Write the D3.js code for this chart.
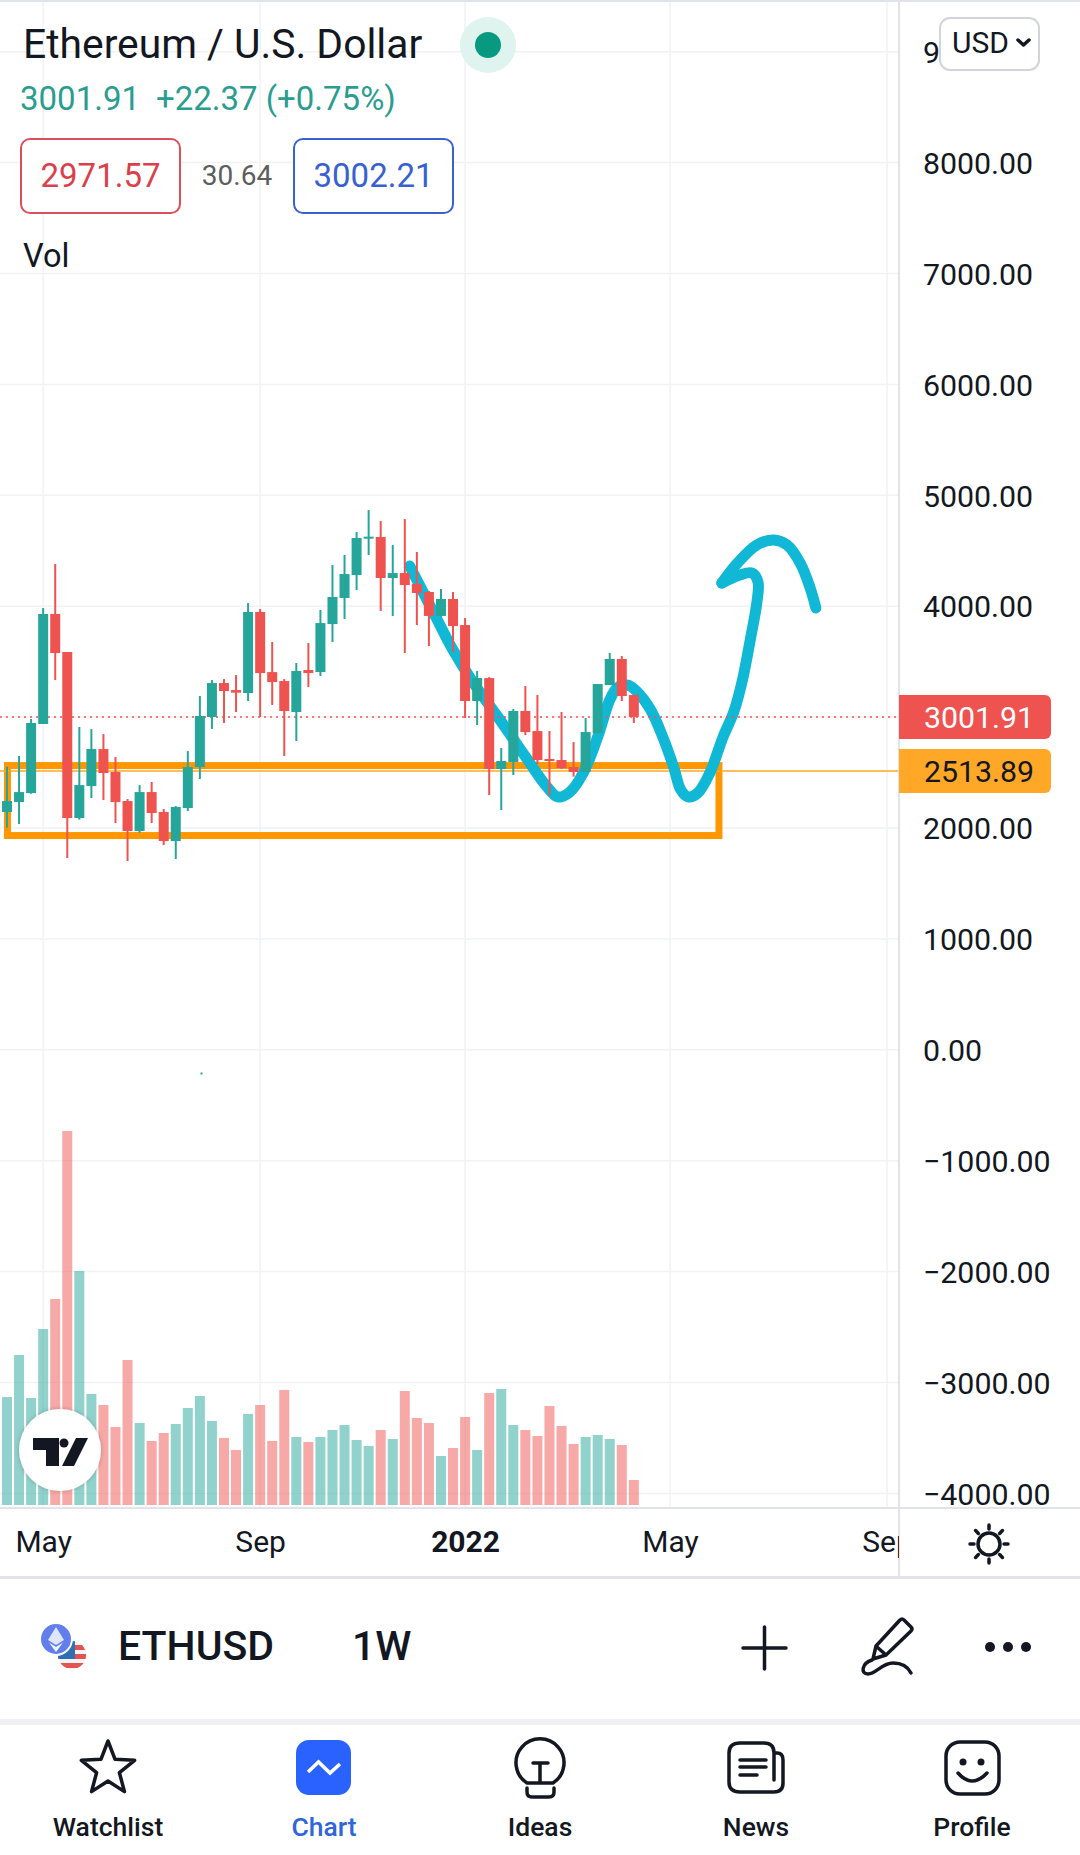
<!DOCTYPE html>
<html>
<head>
<meta charset="utf-8">
<title>ETHUSD</title>
<script src="https://cdn.jsdelivr.net/npm/d3@7"></script>
<style>
  html, body { margin: 0; padding: 0; background: #fff; }
  svg { display: block; }
  text { font-family: Roboto, sans-serif; fill: #131722; }
  .axis path, .axis line { display: none; }
  .icon { fill: none; stroke: #131722; stroke-width: 3.5; stroke-linecap: round; stroke-linejoin: round; }
</style>
</head>
<body>
<svg id="chart" width="1080" height="1855"></svg>
<script>
const OPEN = [2144,2234,2315,2938,3930,3587,2090,2378,2712,2505,2243,1973,2324,2144,1882,2180,2550,3001,3307,3244,3217,3948,3406,3325,3046,3425,3406,3839,4074,4281,4609,4624,4254,4299,4200,4128,3912,4065,3830,3145,3352,2532,2595,3055,2874,2622,2613,2550,2505,2856,3289,3524,3199];
const HIGH = [2553,2649,2983,3984,4380,3587,2911,2892,2847,2640,2261,2387,2415,2171,2198,2694,3190,3334,3343,3379,4029,3975,3677,3343,3488,3668,3966,4371,4462,4669,4867,4768,4552,4786,4489,4137,4155,4128,3893,3416,3361,2721,3073,3280,3199,2874,3046,2775,2992,3298,3578,3551,3199];
const LOW = [2003,2036,2309,2938,3334,1729,2075,2270,2252,2045,1702,1958,2045,1846,1720,2153,2442,2893,2947,3046,3145,3001,3109,2649,2784,3271,3370,3677,3884,4146,4462,3957,3912,3578,3830,3641,3906,3587,2992,2929,2297,2162,2478,2838,2577,2297,2532,2463,2505,2853,3289,3145,2947];
const CLOSE = [2243,2324,2947,3930,3578,2090,2387,2712,2496,2234,1973,2324,2135,1882,2189,2550,3010,3307,3235,3220,3948,3397,3316,3055,3416,3397,3848,4083,4290,4615,4627,4254,4299,4191,4119,3912,4065,3821,3145,3352,2532,2604,3055,2865,2613,2604,2541,2505,2865,3298,3524,3190,3001.91];
const VOLUME = [108,150,107,176,206,374,234,111,100,78,145,82,64,72,81,97,109,84,67,55,91,100,64,115,68,63,68,75,80,65,59,75,66,114,87,82,49,57,88,55,112,116,80,75,69,99,79,61,68,70,66,60,25];

const PRICE_TICKS = [9000,8000,7000,6000,5000,4000,3000,2000,1000,0,-1000,-2000,-3000,-4000];
const TIME_TICKS = [3,21,38,55,73];
const TIME_LABELS = ["May","Sep","2022","May","Sep"];
const LAST_PRICE = 3001.91;
const ALERT_PRICE = 2513.89;

// hand drawn markup on the chart, bar index + price
const BOX_BARS = [0.04, 59.06];
const BOX_PRICES = [2563, 1932];
const SKETCH_BARS = [33.4,34.3,35.7,37.0,38.7,40.9,43.2,44.8,45.7,46.7,47.8,49.0,50.0,50.6,51.5,52.3,53.4,54.4,55.3,55.9,56.5,57.3,58.3,59.4,60.3,61.0,61.7,62.2,62.3,61.8,60.8,59.3];
const SKETCH_PRICES = [4362,4173,3875,3605,3307,2974,2613,2370,2280,2325,2496,2821,3154,3262,3289,3226,3064,2821,2550,2343,2280,2316,2496,2821,3050,3330,3722,4029,4218,4299,4281,4209];
const ARROW_BARS = [59.3,60.6,62.2,63.6,64.7,65.8,66.6,67.1];
const ARROW_PRICES = [4209,4389,4552,4597,4552,4389,4173,3984];

const NAV_LABELS = ["Watchlist","Chart","Ideas","News","Profile"];
const NAV_X = [108,324,540,756,972];

const GREEN = "#26a69a";
const RED = "#ef5350";
const GRID = "#f1f2f5";
const BORDER = "#e0e3eb";
const ORANGE = "#ff9800";
const CYAN = "#10b8d6";
const AXIS_X = 899;
const PANE_BOTTOM = 1507;

const SVG = d3.select("#chart");

const X = d3.scaleLinear().domain([0, 73]).range([7, 887]);
const Y = d3.scaleLinear().domain([0, 8000]).range([1049.8, 162.6]);
const VOL_Y = d3.scaleLinear().domain([0, d3.max(VOLUME)]).range([1505, 1131]);

const BARS = d3.range(CLOSE.length);
const isUp = i => CLOSE[i] >= OPEN[i];

SVG.append("defs").append("clipPath").attr("id", "time-clip")
  .append("rect").attr("x", 0).attr("y", 1510).attr("width", AXIS_X).attr("height", 60);

const shadow = SVG.select("defs").append("filter").attr("id", "logo-shadow")
  .attr("x", "-20%").attr("y", "-20%").attr("width", "140%").attr("height", "140%");
shadow.append("feDropShadow").attr("dx", 0).attr("dy", 0).attr("stdDeviation", 2)
  .attr("flood-color", "#000").attr("flood-opacity", 0.25);

// grid
SVG.selectAll("line.h-grid").data(PRICE_TICKS).enter().append("line")
  .attr("class", "h-grid")
  .attr("x1", 0).attr("x2", AXIS_X)
  .attr("y1", d => Y(d)).attr("y2", d => Y(d))
  .attr("stroke", GRID).attr("stroke-width", 1.5);

SVG.selectAll("line.v-grid").data(TIME_TICKS).enter().append("line")
  .attr("class", "v-grid")
  .attr("x1", d => X(d)).attr("x2", d => X(d))
  .attr("y1", 0).attr("y2", PANE_BOTTOM)
  .attr("stroke", GRID).attr("stroke-width", 1.5);

// volume
SVG.selectAll("rect.vol").data(BARS).enter().append("rect")
  .attr("class", "vol")
  .attr("x", i => X(i) - 5)
  .attr("width", 10)
  .attr("y", i => VOL_Y(VOLUME[i]))
  .attr("height", i => VOL_Y(0) - VOL_Y(VOLUME[i]))
  .attr("fill", i => isUp(i) ? GREEN : RED)
  .attr("fill-opacity", 0.5);

// markup under the candles
SVG.append("rect")
  .attr("x", X(BOX_BARS[0]))
  .attr("y", Y(BOX_PRICES[0]))
  .attr("width", X(BOX_BARS[1]) - X(BOX_BARS[0]))
  .attr("height", Y(BOX_PRICES[1]) - Y(BOX_PRICES[0]))
  .attr("fill", "none").attr("stroke", ORANGE).attr("stroke-width", 7);

SVG.append("line")
  .attr("x1", 0).attr("x2", AXIS_X)
  .attr("y1", Y(ALERT_PRICE)).attr("y2", Y(ALERT_PRICE))
  .attr("stroke", "#ffa726").attr("stroke-width", 1.5);

const SKETCH = d3.line().x(d => X(d[0])).y(d => Y(d[1])).curve(d3.curveCatmullRom.alpha(0.5));

[[SKETCH_BARS, SKETCH_PRICES], [ARROW_BARS, ARROW_PRICES]].forEach(([xs, ps]) => {
  SVG.append("path")
    .datum(xs.map((x, i) => [x, ps[i]]))
    .attr("d", SKETCH)
    .attr("fill", "none").attr("stroke", CYAN).attr("stroke-width", 11)
    .attr("stroke-linecap", "round").attr("stroke-linejoin", "round");
});

SVG.append("line")
  .attr("x1", 0).attr("x2", AXIS_X)
  .attr("y1", Y(LAST_PRICE)).attr("y2", Y(LAST_PRICE))
  .attr("stroke", RED).attr("stroke-width", 1.5).attr("stroke-dasharray", "2 4");

// candles
SVG.selectAll("line.wick").data(BARS).enter().append("line")
  .attr("class", "wick")
  .attr("x1", i => X(i)).attr("x2", i => X(i))
  .attr("y1", i => Y(HIGH[i])).attr("y2", i => Y(LOW[i]))
  .attr("stroke", i => isUp(i) ? GREEN : RED).attr("stroke-width", 2);

SVG.selectAll("rect.body").data(BARS).enter().append("rect")
  .attr("class", "body")
  .attr("x", i => X(i) - 5)
  .attr("width", 10)
  .attr("y", i => Y(Math.max(OPEN[i], CLOSE[i])))
  .attr("height", i => Math.max(2, Math.abs(Y(OPEN[i]) - Y(CLOSE[i]))))
  .attr("fill", i => isUp(i) ? GREEN : RED);

SVG.append("rect").attr("x", 200.5).attr("y", 1072.5).attr("width", 2).attr("height", 2).attr("fill", GREEN);

// logo
SVG.append("circle").attr("cx", 60).attr("cy", 1450).attr("r", 41)
  .attr("fill", "#fff").attr("filter", "url(#logo-shadow)");
SVG.append("path").attr("fill", "#131722")
  .attr("d", "M33 1438H59V1466H46V1450H33Z M76 1438H88L74 1466H62Z");
SVG.append("circle").attr("cx", 64).attr("cy", 1443).attr("r", 4.5).attr("fill", "#131722");

// borders
SVG.append("rect").attr("x", 0).attr("y", 0).attr("width", 1080).attr("height", 2).attr("fill", BORDER);
SVG.append("rect").attr("x", AXIS_X - 1).attr("y", 0).attr("width", 2).attr("height", 1577).attr("fill", BORDER);
SVG.append("rect").attr("x", 0).attr("y", PANE_BOTTOM).attr("width", 1080).attr("height", 2).attr("fill", BORDER);
SVG.append("rect").attr("x", 0).attr("y", 1576).attr("width", 1080).attr("height", 3).attr("fill", BORDER);
SVG.append("rect").attr("x", 0).attr("y", 1719).attr("width", 1080).attr("height", 6).attr("fill", "#eef0f3");

// axes
const PRICE_AXIS = SVG.append("g")
  .attr("class", "axis")
  .attr("transform", `translate(${AXIS_X},1)`)
  .call(d3.axisRight(Y).tickValues(PRICE_TICKS).tickSize(0).tickPadding(24).tickFormat(d3.format(".2f")));
PRICE_AXIS.selectAll("text").style("font-size", "30.3px").attr("fill", "#131722").style("font-family", "Roboto");

const TIME_AXIS = SVG.append("g")
  .attr("class", "axis")
  .attr("clip-path", "url(#time-clip)")
  .append("g")
  .attr("transform", "translate(0,1531)")
  .call(d3.axisBottom(X).tickValues(TIME_TICKS).tickSize(0).tickPadding(0).tickFormat((d, i) => TIME_LABELS[i]));
TIME_AXIS.selectAll("text")
  .style("font-size", "30px").style("font-family", "Roboto")
  .style("font-weight", d => d === 38 ? 700 : 400)
  .attr("fill", "#131722");

// price labels
function priceTag(value, fill, color) {
  const tagY = value === LAST_PRICE ? 695 : 749;
  SVG.append("path")
    .attr("d", `M${AXIS_X} ${tagY}H1045a6 6 0 0 1 6 6V${tagY + 38}a6 6 0 0 1 -6 6H${AXIS_X}Z`)
    .attr("fill", fill);
  SVG.append("text").attr("x", 924).attr("y", tagY + 22).attr("dy", "0.35em")
    .style("font-size", "30.3px").style("fill", color)
    .text(d3.format(".2f")(value));
}
priceTag(LAST_PRICE, RED, "#fff");
priceTag(ALERT_PRICE, "#ffa726", "#131722");

// header
function label(x, y, str, size, color, anchor, weight) {
  return SVG.append("text").attr("x", x).attr("y", y)
    .attr("text-anchor", anchor || "start")
    .style("font-size", size + "px")
    .style("font-weight", weight || 400)
    .style("fill", color || "#131722")
    .text(str);
}

label(23, 58, "Ethereum / U.S. Dollar", 40.8);
SVG.append("ellipse").attr("cx", 488).attr("cy", 45).attr("rx", 28).attr("ry", 28).attr("fill", "#dff3ef");
SVG.append("circle").attr("cx", 488).attr("cy", 45).attr("r", 13).attr("fill", "#089981");
label(20, 110, "3001.91", 33, "#2a9d8f");
label(156, 110, "+22.37 (+0.75%)", 33, "#2a9d8f");

SVG.append("rect").attr("x", 21).attr("y", 139).attr("width", 159).attr("height", 74).attr("rx", 9)
  .attr("fill", "#fff").attr("stroke", "#d9505b").attr("stroke-width", 2);
label(100.5, 187, "2971.57", 33, "#dc3f4c", "middle");
label(237, 185, "30.64", 28, "#5d5d5d", "middle");
SVG.append("rect").attr("x", 294).attr("y", 139).attr("width", 159).attr("height", 74).attr("rx", 9)
  .attr("fill", "#fff").attr("stroke", "#3a62cf").attr("stroke-width", 2);
label(373.5, 187, "3002.21", 33, "#3760d0", "middle");
label(23, 267, "Vol", 32.5);

// currency box sits on top of the 9000 label
SVG.append("rect").attr("x", 940).attr("y", 18).attr("width", 99).attr("height", 52).attr("rx", 10)
  .attr("fill", "#fff").attr("stroke", "#d1d4dc").attr("stroke-width", 2);
label(952, 53, "USD", 30);
SVG.append("path").attr("class", "icon").attr("stroke-width", 2.5)
  .attr("d", "M1018 40L1023.5 45L1029 40");

// sun toggle
SVG.append("circle").attr("class", "icon").attr("stroke-width", 3).attr("cx", 989).attr("cy", 1544).attr("r", 11);
SVG.append("g").selectAll("line").data(d3.range(8)).enter().append("line")
  .attr("class", "icon").attr("stroke-width", 3)
  .attr("x1", d => 989 + 15 * Math.cos(d * Math.PI / 4))
  .attr("y1", d => 1544 + 15 * Math.sin(d * Math.PI / 4))
  .attr("x2", d => 989 + 19 * Math.cos(d * Math.PI / 4))
  .attr("y2", d => 1544 + 19 * Math.sin(d * Math.PI / 4));

// symbol row
SVG.append("defs").append("clipPath").attr("id", "flag-clip")
  .append("circle").attr("cx", 72).attr("cy", 1655).attr("r", 14);
const FLAG = SVG.append("g").attr("clip-path", "url(#flag-clip)");
FLAG.append("rect").attr("x", 58).attr("y", 1641).attr("width", 28).attr("height", 28).attr("fill", "#f4f4f4");
FLAG.selectAll("rect.stripe").data([1645, 1654, 1663]).enter().append("rect")
  .attr("class", "stripe").attr("x", 58).attr("y", d => d).attr("width", 28).attr("height", 5).attr("fill", "#e4534f");
FLAG.append("rect").attr("x", 58).attr("y", 1641).attr("width", 17).attr("height", 18).attr("fill", "#2f6fb5");
SVG.append("circle").attr("cx", 56).attr("cy", 1639).attr("r", 17).attr("fill", "#fff");
SVG.append("circle").attr("cx", 56).attr("cy", 1639).attr("r", 15).attr("fill", "#627eea");
SVG.append("path").attr("fill", "#dfe5fb").attr("d", "M56 1627L64 1640L56 1645L48 1640Z");
SVG.append("path").attr("fill", "#f4f6ff").attr("d", "M56 1647L63 1642.5L56 1652L49 1642.5Z");

label(118, 1660, "ETHUSD", 41, "#131722", "start", 500);
label(352, 1660, "1W", 41, "#131722", "start", 500);

SVG.append("path").attr("class", "icon").attr("d", "M764.5 1627V1669M743 1648H786");
SVG.append("path").attr("class", "icon").attr("stroke-width", 3)
  .attr("d", "M876 1646L900 1620Q902 1618 904 1620L911 1627Q913 1629 911 1631L886 1655L873 1659Z M877 1647L886 1655");
SVG.append("path").attr("class", "icon").attr("stroke-width", 3)
  .attr("d", "M872 1660C862 1663 860 1674 868 1674C876 1674 882 1663 893 1663C902 1663 908 1667 911 1673");
SVG.selectAll("circle.dot").data([990, 1008, 1026]).enter().append("circle")
  .attr("class", "dot").attr("cx", d => d).attr("cy", 1647).attr("r", 5).attr("fill", "#131722");

// bottom nav
NAV_LABELS.forEach((name, i) => {
  label(NAV_X[i], 1836, name, 26.5, name === "Chart" ? "#2f66dc" : "#131722", "middle", 500);
});

const STAR = d3.range(10).map(i => {
  const r = i % 2 ? 12 : 28;
  const a = i * Math.PI / 5 - Math.PI / 2;
  return [108 + r * Math.cos(a), 1769 + r * Math.sin(a)];
});
SVG.append("path").attr("class", "icon").attr("d", d3.line()(STAR) + "Z");

SVG.append("rect").attr("x", 296).attr("y", 1740).attr("width", 55).attr("height", 55).attr("rx", 13).attr("fill", "#2962ff");
SVG.append("path").attr("fill", "none").attr("stroke", "#fff").attr("stroke-width", 3.5)
  .attr("d", "M308 1772L318.5 1762L330 1773L340 1764");

SVG.append("path").attr("class", "icon")
  .attr("d", "M527 1783A24 24 0 1 1 553 1783Z M533 1763H548 M540 1763V1783 M527 1788V1792Q527 1797 532 1797H549Q554 1797 554 1792V1788");

SVG.append("path").attr("class", "icon")
  .attr("d", "M740 1743H764Q774 1743 774 1753H777Q783 1753 783 1760V1783Q783 1792 774 1792H740Q729 1792 729 1782V1753Q729 1743 740 1743Z M774 1753V1780");
SVG.append("path").attr("class", "icon").attr("d", "M740 1760H766M740 1767H766M740 1775H757");

SVG.append("rect").attr("class", "icon").attr("x", 946).attr("y", 1742).attr("width", 53).attr("height", 52).attr("rx", 14);
SVG.selectAll("circle.eye").data([963, 981]).enter().append("circle")
  .attr("class", "eye").attr("cx", d => d).attr("cy", 1762).attr("r", 3.5).attr("fill", "#131722");
SVG.append("path").attr("class", "icon").attr("d", "M958 1773Q972 1789 987 1773");
</script>
</body>
</html>
